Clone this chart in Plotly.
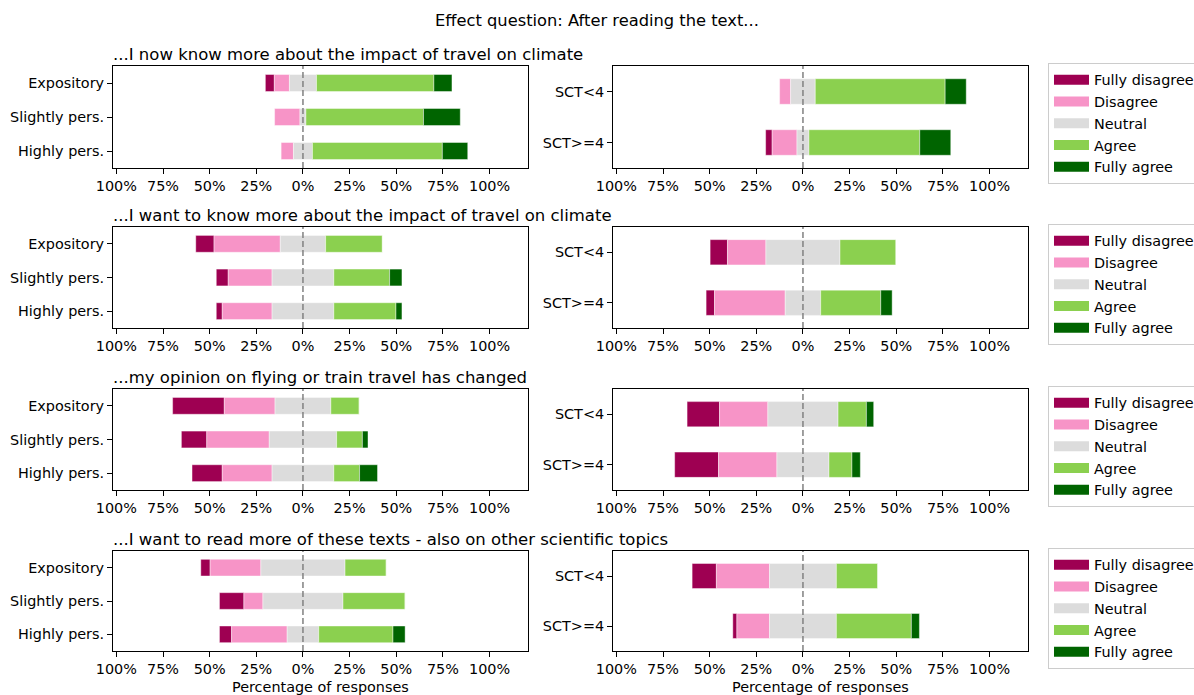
import plotly.graph_objects as go

W, H = 1194, 695

# Response levels and their colours
LEVELS = ["Fully disagree", "Disagree", "Neutral", "Agree", "Fully agree"]
COLORS = ["#9e0052", "#f794c7", "#dcdcdc", "#8bd04f", "#006400"]

# Groups: text type (left column) and SCT score (right column)
TEXT_GROUPS = ["Expository", "Slightly pers.", "Highly pers."]
SCT_GROUPS = ["SCT<4", "SCT>=4"]

QUESTIONS = [
    "...I now know more about the impact of travel on climate",
    "...I want to know more about the impact of travel on climate",
    "...my opinion on flying or train travel has changed",
    "...I want to read more of these texts - also on other scientific topics",
]

# Percentages per group, ordered as LEVELS
q1_text = [[4.8, 8.1, 14.5, 62.9, 9.7],
           [0.0, 13.6, 3.2, 63.0, 19.7],
           [0.0, 6.6, 10.2, 69.6, 13.6]]
q1_sct = [[0.0, 5.9, 13.2, 69.6, 11.3],
          [3.5, 13.3, 6.4, 59.4, 16.6]]

q2_text = [[9.8, 35.5, 24.3, 30.4, 0.0],
           [6.4, 23.5, 33.1, 29.9, 6.6],
           [3.2, 26.7, 33.1, 33.3, 3.2]]
q2_sct = [[9.3, 20.6, 39.7, 30.0, 0.0],
          [4.5, 37.9, 19.0, 32.2, 6.1]]

q3_text = [[27.7, 27.2, 29.9, 15.2, 0.0],
           [13.6, 33.5, 36.1, 13.8, 3.0],
           [16.2, 26.7, 33.1, 13.8, 9.6]]
q3_sct = [[17.4, 25.9, 37.6, 15.2, 3.9],
          [23.5, 31.3, 27.9, 12.3, 4.5]]

q4_text = [[5.0, 27.2, 45.1, 22.1, 0.0],
           [13.1, 10.2, 42.9, 33.3, 0.0],
           [6.5, 29.8, 16.9, 39.8, 6.5]]
q4_sct = [[13.0, 28.5, 35.8, 22.2, 0.0],
          [2.2, 17.5, 35.8, 40.2, 4.3]]

TEXT_DATA = [q1_text, q2_text, q3_text, q4_text]
SCT_DATA = [q1_sct, q2_sct, q3_sct, q4_sct]

TICK_VALS = [-100, -75, -50, -25, 0, 25, 50, 75, 100]
TICK_TEXT = [f"{abs(v)}%" for v in TICK_VALS]
X_RANGE = [-101.8, 120.6]

FONT = "DejaVu Sans"
TICK_SIZE = 14.4
TITLE_SIZE = 16.5
SUPTITLE_SIZE = 16.3

# Panel geometry in pixels
COL_X = [(113, 528), (613, 1028)]
ROW_Y = [(66, 168), (227, 328), (389, 490), (551, 651)]

fig = go.Figure()


def add_panel(sfx, groups, rows, legend_name=None):
    xa, ya = f"x{sfx}", f"y{sfx}"
    # each bar is centred on the middle of its neutral segment
    cum = [-(r[0] + r[1] + r[2] / 2) for r in rows]
    for k, level in enumerate(LEVELS):
        widths = [r[k] for r in rows]
        fig.add_trace(go.Bar(
            y=groups, x=widths, base=list(cum), orientation="h", width=0.5,
            marker=dict(color=COLORS[k],
                        line=dict(width=0.6, color="rgba(255,255,255,0.7)")),
            name=level, showlegend=False, xaxis=xa, yaxis=ya,
        ))
        cum = [c + w for c, w in zip(cum, widths)]
    if legend_name:
        for k, level in enumerate(LEVELS):
            fig.add_trace(go.Scatter(
                x=[None], y=[None], mode="lines", name=level,
                line=dict(color=COLORS[k], width=10),
                legend=legend_name, showlegend=True, xaxis=xa, yaxis=ya,
            ))


layout = dict(
    width=W, height=H,
    margin=dict(l=0, r=0, t=0, b=0, autoexpand=False),
    paper_bgcolor="white", plot_bgcolor="white",
    barmode="overlay",
    font=dict(family=FONT, size=TICK_SIZE, color="black"),
    showlegend=True,
)

shapes = []
annotations = []

for r in range(4):
    for c in range(2):
        idx = r * 2 + c + 1
        sfx = "" if idx == 1 else str(idx)
        groups = TEXT_GROUPS if c == 0 else SCT_GROUPS
        data = TEXT_DATA[r] if c == 0 else SCT_DATA[r]
        lname = None
        if c == 1:
            lname = "legend" if r == 0 else f"legend{r + 1}"
        add_panel(sfx, groups, data, lname)

        x0, x1 = COL_X[c]
        y0, y1 = ROW_Y[r]
        layout[f"xaxis{sfx}"] = dict(
            domain=[x0 / W, x1 / W], anchor=f"y{sfx}", range=X_RANGE,
            tickmode="array", tickvals=TICK_VALS, ticktext=TICK_TEXT,
            showline=True, mirror=True, linecolor="black", linewidth=1,
            ticks="outside", ticklen=5, tickcolor="black", tickwidth=1,
            showgrid=False, zeroline=False, tickfont=dict(size=TICK_SIZE),
        )
        layout[f"yaxis{sfx}"] = dict(
            domain=[1 - y1 / H, 1 - y0 / H], anchor=f"x{sfx}",
            type="category", categoryorder="array", categoryarray=groups,
            range=[len(groups) - 0.5, -0.5],
            showline=True, mirror=True, linecolor="black", linewidth=1,
            ticks="outside", ticklen=5, tickcolor="black", tickwidth=1,
            showgrid=False, zeroline=False, tickfont=dict(size=TICK_SIZE),
        )
        shapes.append(dict(
            type="line", xref=f"x{sfx}", yref=f"y{sfx} domain",
            x0=0, x1=0, y0=0, y1=1, layer="above",
            line=dict(color="gray", width=1.5, dash="6px,3px"),
        ))

        if lname:
            layout[lname] = dict(
                xref="paper", yref="paper",
                x=1048 / W, y=1 - (y0 - 3) / H,
                xanchor="left", yanchor="top",
                bgcolor="white", bordercolor="#cccccc", borderwidth=1,
                font=dict(family=FONT, size=TICK_SIZE, color="black"),
                itemwidth=35, tracegroupgap=0,
            )

    # question title above the left panel
    annotations.append(dict(
        text=QUESTIONS[r], xref="paper", yref="paper",
        x=111 / W, y=1 - (ROW_Y[r][0] - 12) / H,
        xanchor="left", yanchor="middle", showarrow=False,
        font=dict(family=FONT, size=TITLE_SIZE, color="black"),
    ))

annotations.append(dict(
    text="Effect question: After reading the text...", xref="paper", yref="paper",
    x=597 / W, y=1 - 20 / H, xanchor="center", yanchor="middle", showarrow=False,
    font=dict(family=FONT, size=SUPTITLE_SIZE, color="black"),
))
for c in range(2):
    annotations.append(dict(
        text="Percentage of responses", xref="paper", yref="paper",
        x=(COL_X[c][0] + COL_X[c][1]) / 2 / W, y=1 - 687 / H,
        xanchor="center", yanchor="middle", showarrow=False,
        font=dict(family=FONT, size=TICK_SIZE, color="black"),
    ))

layout["shapes"] = shapes
layout["annotations"] = annotations
fig.update_layout(**layout)

fig.write_html("out.html")
